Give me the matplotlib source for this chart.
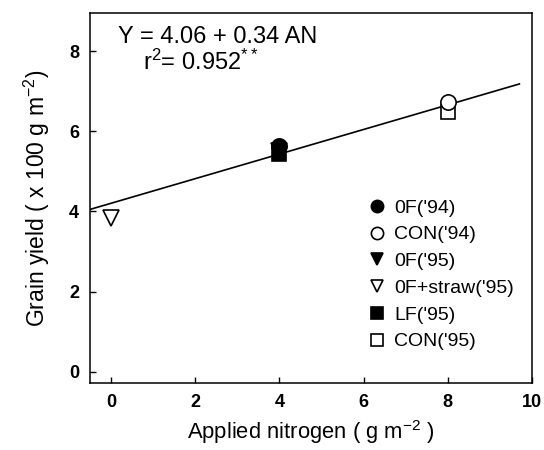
import matplotlib
matplotlib.use("Agg")
import matplotlib.pyplot as plt
import numpy as np

plt.rcParams['font.family'] = ['Liberation Sans', 'DejaVu Sans']
plt.rcParams['mathtext.default'] = 'regular'

# Data
labels = ["0F('94)", "CON('94)", "0F('95)", "0F+straw('95)", "LF('95)", "CON('95)"]
x_vals = [4, 8, 4, 0, 4, 8]
y_vals = [5.62, 6.72, 5.5, 3.83, 5.43, 6.47]
markers = ['o', 'o', 'v', 'v', 's', 's']
filled = [True, False, True, False, True, False]
# regression line as drawn in the figure (end points)
line_x = [-0.5, 9.7]
line_y = [4.05, 7.18]
x_ticks = [0, 2, 4, 6, 8, 10]
y_ticks = [0, 2, 4, 6, 8]

fig = plt.figure(figsize=(5.44, 4.5), dpi=100)
ax = fig.add_axes([90/544, 1-383/450, 442/544, 370/450])

ax.plot(line_x, line_y, color='black', lw=1.2, zorder=2)

handles = {}
for i in range(len(labels)):
    fc = 'black' if filled[i] else 'white'
    ms = 11 if markers[i] in ('o', 'v') else 10
    h, = ax.plot([x_vals[i]], [y_vals[i]], linestyle='none', marker=markers[i],
                 markersize=ms, markerfacecolor=fc, markeredgecolor='black',
                 markeredgewidth=1.2, label=labels[i], zorder=3 + (1 if i in (0, 1) else 0))
    handles[i] = h

leg = ax.legend([handles[i] for i in range(6)], labels, loc='upper left',
                bbox_to_anchor=((366-90)/442, 1-(199-13)/370), frameon=False,
                fontsize=14, markerscale=0.8, handletextpad=0.35, labelspacing=0.47,
                handlelength=1.1, borderaxespad=0, borderpad=0)

ax.set_xlim(-0.5, 10)
ax.set_ylim(-0.28, 8.95)
ax.set_xticks(x_ticks)
ax.set_yticks(y_ticks)
ax.tick_params(direction='in', length=4, width=1, labelsize=13, pad=8)
for t in ax.get_xticklabels() + ax.get_yticklabels():
    t.set_fontweight('bold')
for s in ax.spines.values():
    s.set_linewidth(1.1)

ax.set_xlabel('Applied nitrogen ( g m$^{-2}$ )', fontsize=15.8, labelpad=5)
ax.set_ylabel('Grain yield ( x 100 g m$^{-2}$)', fontsize=16.5, labelpad=12)

ax.text((118-90)/442, 1-(37-13)/370, 'Y = 4.06 + 0.34 AN', transform=ax.transAxes,
        fontsize=17, va='center', ha='left')
ax.text((143-90)/442, 1-(62-13)/370, 'r$^{2}$= 0.952$^{**}$', transform=ax.transAxes,
        fontsize=17, va='center', ha='left')

fig.savefig('out.png', dpi=100)
